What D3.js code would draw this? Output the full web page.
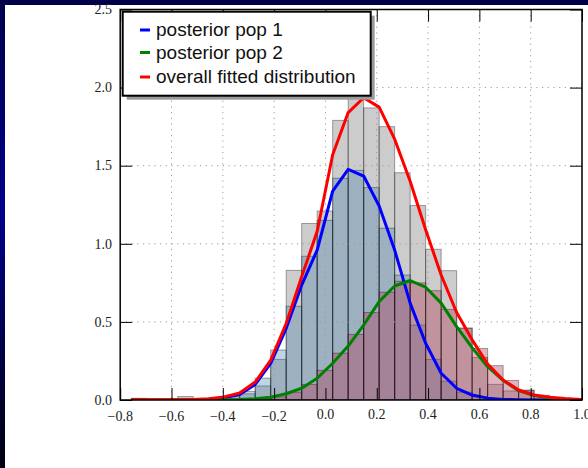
<!DOCTYPE html>
<html>
<head>
<meta charset="utf-8">
<script src="https://cdn.jsdelivr.net/npm/d3@7"></script>
<style>
  html, body { margin: 0; padding: 0; background: #000030; }
  svg { display: block; }
</style>
</head>
<body>
<svg id="chart" width="588" height="468"></svg>
<script>
// Histogram bin edges shared by all three histograms and curves
const binEdges = [-0.757, -0.6966, -0.6362, -0.5758, -0.5154, -0.455, -0.3946, -0.3342,
  -0.2738, -0.2134, -0.153, -0.0926, -0.0322, 0.0282, 0.0886, 0.149, 0.2094, 0.2698,
  0.3302, 0.3906, 0.451, 0.5114, 0.5718, 0.6322, 0.6926, 0.753, 0.8134, 0.8738,
  0.9342, 0.9946, 1.055];

// Normalised histogram of all samples (one value per bin)
const overallHist = [0.011, 0, 0, 0.022, 0, 0.011, 0.022, 0.04, 0.09, 0.26,
  0.83, 1.13, 1.21, 1.79, 2.02, 1.87, 1.75, 1.455, 1.245, 0.965,
  0.828, 0.46, 0.272, 0.10, 0.058, 0.064, 0.011, 0, 0, 0];

// Weighted histograms of the two populations
const pop1Hist = [0, 0, 0, 0, 0, 0.004, 0.012, 0.055, 0.14, 0.32,
  0.6, 0.92, 1.15, 1.42, 1.47, 1.36, 1.1, 0.8, 0.48, 0.26,
  0.12, 0.05, 0.02, 0.008, 0, 0, 0, 0, 0, 0];
const pop2Hist = [0, 0, 0, 0, 0, 0, 0.002, 0.005, 0.01, 0.02,
  0.05, 0.1, 0.19, 0.3, 0.42, 0.56, 0.69, 0.76, 0.75, 0.7,
  0.58, 0.46, 0.33, 0.22, 0.125, 0.06, 0.03, 0.012, 0.004, 0];

// Fitted densities evaluated at the bin edges
const pop1Curve = [0, 0, 0, 0, 0.001, 0.003, 0.015, 0.035, 0.1, 0.235,
  0.459, 0.736, 0.96, 1.338, 1.477, 1.434, 1.242, 0.96, 0.62, 0.363,
  0.171, 0.075, 0.032, 0.012, 0.004, 0.001, 0, 0, 0, 0, 0];
const pop2Curve = [0, 0, 0, 0, 0, 0, 0.001, 0.003, 0.008, 0.018,
  0.04, 0.075, 0.139, 0.235, 0.345, 0.48, 0.63, 0.73, 0.765, 0.722,
  0.62, 0.47, 0.335, 0.213, 0.125, 0.06, 0.028, 0.012, 0.005, 0.002, 0.001];
const overallCurve = [0.001, 0.001, 0.001, 0.002, 0.004, 0.008, 0.02, 0.045, 0.115, 0.255,
  0.49, 0.79, 1.08, 1.57, 1.84, 1.935, 1.875, 1.67, 1.40, 1.09,
  0.80, 0.56, 0.385, 0.23, 0.128, 0.064, 0.032, 0.017, 0.009, 0.004, 0.002];

const xTicks = [-0.8, -0.6, -0.4, -0.2, 0.0, 0.2, 0.4, 0.6, 0.8, 1.0];
const yTicks = [0.0, 0.5, 1.0, 1.5, 2.0, 2.5];
const legendLabels = ["posterior pop 1", "posterior pop 2", "overall fitted distribution"];

const W = 588, H = 468;
const plot = { left: 120.2, right: 582, top: 9.5, bottom: 400 };

const svg = d3.select("#chart");
const defs = svg.append("defs");

// Navy frame behind the white page
const grad = defs.append("linearGradient").attr("id", "frameGrad")
  .attr("x1", 0).attr("y1", 0).attr("x2", 0).attr("y2", 1);
grad.append("stop").attr("offset", "0%").attr("stop-color", "#00004a");
grad.append("stop").attr("offset", "45%").attr("stop-color", "#00008c");
grad.append("stop").attr("offset", "100%").attr("stop-color", "#000010");
svg.append("rect").attr("width", W).attr("height", H).attr("fill", "url(#frameGrad)");
svg.append("rect").attr("x", 0).attr("y", 0).attr("width", W).attr("height", 5).attr("fill", "#000048");
svg.append("rect").attr("x", 5).attr("y", 5).attr("width", W - 5).attr("height", H - 5).attr("fill", "#ffffff");

const x = d3.scaleLinear().domain([-0.8, 1.0]).range([plot.left, plot.right]);
const y = d3.scaleLinear().domain([0, 2.5]).range([plot.bottom, plot.top]);

defs.append("clipPath").attr("id", "plotClip").append("rect")
  .attr("x", plot.left).attr("y", plot.top)
  .attr("width", plot.right - plot.left).attr("height", plot.bottom - plot.top);

const area = svg.append("g").attr("clip-path", "url(#plotClip)");

function drawHist(values, fill) {
  area.append("g").selectAll("rect")
    .data(values.map((v, i) => ({ x0: binEdges[i], x1: binEdges[i + 1], v })).filter(d => d.v > 0))
    .join("rect")
    .attr("x", d => x(d.x0))
    .attr("width", d => x(d.x1) - x(d.x0))
    .attr("y", d => y(d.v))
    .attr("height", d => y(0) - y(d.v))
    .attr("fill", fill)
    .attr("stroke", "rgba(0,0,0,0.35)")
    .attr("stroke-width", 1);
}

drawHist(overallHist, "rgba(128,128,128,0.4)");
drawHist(pop1Hist, "rgba(60,120,170,0.32)");
drawHist(pop2Hist, "rgba(175,55,85,0.38)");

// Dotted grid
const gridG = area.append("g").attr("stroke", "#9a9a9a").attr("stroke-width", 1)
  .attr("stroke-dasharray", "1.2,4.5");
gridG.selectAll("line.gx").data(xTicks).join("line").attr("class", "gx")
  .attr("x1", d => x(d)).attr("x2", d => x(d)).attr("y1", plot.top).attr("y2", plot.bottom);
gridG.selectAll("line.gy").data(yTicks).join("line").attr("class", "gy")
  .attr("x1", plot.left).attr("x2", plot.right).attr("y1", d => y(d)).attr("y2", d => y(d));

// Fitted curves
const line = d3.line().x((d, i) => x(binEdges[i])).y(d => y(d));
[[pop1Curve, "#0000ff"], [pop2Curve, "#008000"], [overallCurve, "#ff0000"]].forEach(([vals, col]) => {
  area.append("path").datum(vals).attr("d", line)
    .attr("fill", "none").attr("stroke", col).attr("stroke-width", 3)
    .attr("stroke-linejoin", "round");
});

// Axes with inward ticks on all four sides
const tickLen = 12;
const axisStyle = g => {
  g.select(".domain").remove();
  g.selectAll(".tick line").attr("stroke", "#000").attr("stroke-width", 1);
};
svg.append("g").attr("transform", `translate(0,${plot.bottom})`)
  .call(d3.axisBottom(x).tickValues(xTicks).tickSizeInner(-tickLen).tickSizeOuter(0).tickFormat(""))
  .call(axisStyle);
svg.append("g").attr("transform", `translate(0,${plot.top})`)
  .call(d3.axisTop(x).tickValues(xTicks).tickSizeInner(-tickLen).tickSizeOuter(0).tickFormat(""))
  .call(axisStyle);
svg.append("g").attr("transform", `translate(${plot.left},0)`)
  .call(d3.axisLeft(y).tickValues(yTicks).tickSizeInner(-tickLen).tickSizeOuter(0).tickFormat(""))
  .call(axisStyle);
svg.append("g").attr("transform", `translate(${plot.right},0)`)
  .call(d3.axisRight(y).tickValues(yTicks).tickSizeInner(-tickLen).tickSizeOuter(0).tickFormat(""))
  .call(axisStyle);

svg.append("rect").attr("x", plot.left).attr("y", plot.top)
  .attr("width", plot.right - plot.left).attr("height", plot.bottom - plot.top)
  .attr("fill", "none").attr("stroke", "#000").attr("stroke-width", 1.5);

// Tick labels
const fmt = d => (d < 0 ? "\u2212" : "") + Math.abs(d).toFixed(1);
svg.append("g").selectAll("text").data(xTicks).join("text")
  .attr("x", d => x(d)).attr("y", d => d < 0 ? 420.5 : 418.5)
  .attr("text-anchor", "middle")
  .attr("font-family", "'Liberation Serif', 'DejaVu Serif', serif")
  .attr("font-size", 14).attr("fill", "#222")
  .text(fmt);
svg.append("g").selectAll("text").data(yTicks).join("text")
  .attr("x", 112).attr("y", d => y(d)).attr("dy", "0.34em")
  .attr("text-anchor", "end")
  .attr("font-family", "'Liberation Serif', 'DejaVu Serif', serif")
  .attr("font-size", 14).attr("fill", "#222")
  .text(fmt);

// Legend with drop shadow
const lg = { x: 122.7, y: 11.7, w: 248, h: 84 };
svg.append("rect").attr("x", lg.x + 4).attr("y", lg.y + 4).attr("width", lg.w).attr("height", lg.h)
  .attr("fill", "#9a9a9a");
svg.append("rect").attr("x", lg.x).attr("y", lg.y).attr("width", lg.w).attr("height", lg.h)
  .attr("fill", "#fff").attr("stroke", "#000").attr("stroke-width", 2);
const legendColors = ["#0000ff", "#008000", "#ff0000"];
const legendRows = [30, 52.5, 77];
const items = svg.append("g").selectAll("g").data(legendLabels).join("g")
  .attr("transform", (d, i) => `translate(0,${legendRows[i]})`);
items.append("line").attr("x1", 140).attr("x2", 150).attr("y1", 0).attr("y2", 0)
  .attr("stroke", (d, i) => legendColors[i]).attr("stroke-width", 3);
items.append("text").attr("x", 156).attr("y", 0).attr("dy", "0.34em")
  .attr("font-family", "'Liberation Sans', Arial, sans-serif").attr("font-size", 19)
  .attr("fill", "#111").text(d => d);
</script>
</body>
</html>
